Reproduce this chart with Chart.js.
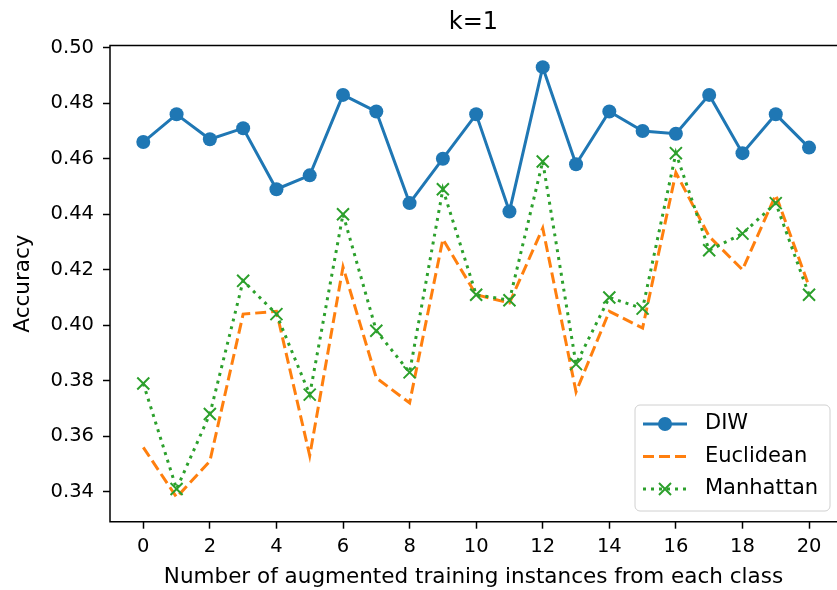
<!DOCTYPE html>
<html>
<head>
<meta charset="utf-8">
<script src="https://cdn.jsdelivr.net/npm/chart.js@4.4.0/dist/chart.umd.min.js"></script>
<style>
  html, body { margin: 0; padding: 0; background: #fff; overflow: hidden; }
  #wrap { width: 837px; height: 590px; }
</style>
</head>
<body>
<div id="wrap"><canvas id="grafico" width="837" height="590"></canvas></div>
<script>
// dados
const xValues = [0, 1, 2, 3, 4, 5, 6, 7, 8, 9, 10, 11, 12, 13, 14, 15, 16, 17, 18, 19, 20];
const diw = [0.466, 0.476, 0.467, 0.471, 0.449, 0.454, 0.483, 0.477, 0.444, 0.460, 0.476,
             0.441, 0.493, 0.458, 0.477, 0.470, 0.469, 0.483, 0.462, 0.476, 0.464];
const euclidean = [0.356, 0.338, 0.351, 0.404, 0.405, 0.353, 0.421, 0.381, 0.372, 0.431, 0.411,
                   0.408, 0.435, 0.376, 0.405, 0.399, 0.455, 0.432, 0.420, 0.447, 0.414];
const manhattan = [0.379, 0.341, 0.368, 0.416, 0.404, 0.375, 0.440, 0.398, 0.383, 0.449, 0.411,
                   0.409, 0.459, 0.386, 0.410, 0.406, 0.462, 0.427, 0.433, 0.444, 0.411];
const xTicks = [0, 2, 4, 6, 8, 10, 12, 14, 16, 18, 20];
const yTicks = [0.34, 0.36, 0.38, 0.40, 0.42, 0.44, 0.46, 0.48, 0.50];

const FONT = "'DejaVu Sans', sans-serif";

function pontos(serie) {
  return xValues.map(function (x, i) { return { x: x, y: serie[i] }; });
}

// moldura dos eixos (o lado direito fica fora da imagem) + legenda
const molduraLegenda = {
  id: "molduraLegenda",
  afterDatasetsDraw: function (chart) {
    const ctx = chart.ctx;
    const a = chart.chartArea;
    ctx.save();
    ctx.strokeStyle = "#000";
    ctx.lineWidth = 1.5;
    ctx.beginPath();
    ctx.moveTo(a.right + 2, a.top);
    ctx.lineTo(a.left, a.top);
    ctx.lineTo(a.left, a.bottom);
    ctx.lineTo(a.right + 2, a.bottom);
    ctx.stroke();

    // caixa da legenda
    const bx = 635, by = 405, bw = 195, bh = 106, r = 5;
    ctx.beginPath();
    ctx.moveTo(bx + r, by);
    ctx.arcTo(bx + bw, by, bx + bw, by + bh, r);
    ctx.arcTo(bx + bw, by + bh, bx, by + bh, r);
    ctx.arcTo(bx, by + bh, bx, by, r);
    ctx.arcTo(bx, by, bx + bw, by, r);
    ctx.closePath();
    ctx.fillStyle = "rgba(255,255,255,0.8)";
    ctx.fill();
    ctx.strokeStyle = "#d0d0d0";
    ctx.lineWidth = 1;
    ctx.stroke();

    const rows = [424, 456.5, 489];
    chart.data.datasets.forEach(function (ds, i) {
      const y = rows[i];
      ctx.strokeStyle = ds.borderColor;
      ctx.lineWidth = ds.borderWidth;
      ctx.setLineDash(ds.borderDash || []);
      ctx.lineCap = "butt";
      ctx.beginPath();
      ctx.moveTo(643, y);
      ctx.lineTo(687, y);
      ctx.stroke();
      ctx.setLineDash([]);
      if (ds.pointStyle === "circle" && ds.pointRadius > 0) {
        ctx.fillStyle = ds.pointBackgroundColor;
        ctx.beginPath();
        ctx.arc(665, y, ds.pointRadius, 0, Math.PI * 2);
        ctx.fill();
      } else if (ds.pointStyle === "crossRot" && ds.pointRadius > 0) {
        const d = ds.pointRadius * Math.SQRT1_2;
        ctx.strokeStyle = ds.pointBorderColor;
        ctx.lineWidth = ds.pointBorderWidth;
        ctx.beginPath();
        ctx.moveTo(665 - d, y - d); ctx.lineTo(665 + d, y + d);
        ctx.moveTo(665 - d, y + d); ctx.lineTo(665 + d, y - d);
        ctx.stroke();
      }
      ctx.fillStyle = "#000";
      ctx.font = "21px " + FONT;
      ctx.textAlign = "left";
      ctx.textBaseline = "middle";
      ctx.fillText(ds.label, 705, y);
    });
    ctx.restore();
  }
};

new Chart(document.getElementById("grafico"), {
  type: "line",
  data: {
    datasets: [
      {
        label: "DIW",
        data: pontos(diw),
        borderColor: "#1f77b4",
        backgroundColor: "#1f77b4",
        borderWidth: 3,
        pointStyle: "circle",
        pointRadius: 7,
        pointBackgroundColor: "#1f77b4",
        pointBorderWidth: 0,
        tension: 0,
        order: 3,
      },
      {
        label: "Euclidean",
        data: pontos(euclidean),
        borderColor: "#ff7f0e",
        backgroundColor: "#ff7f0e",
        borderWidth: 3,
        borderDash: [11, 5],
        pointRadius: 0,
        tension: 0,
        order: 2,
      },
      {
        label: "Manhattan",
        data: pontos(manhattan),
        borderColor: "#2ca02c",
        backgroundColor: "#2ca02c",
        borderWidth: 3,
        borderDash: [3, 5],
        pointStyle: "crossRot",
        pointRadius: 8.5,
        pointBorderColor: "#2ca02c",
        pointBorderWidth: 2,
        tension: 0,
        order: 1,
      },
    ],
  },
  options: {
    responsive: false,
    animation: false,
    layout: { autoPadding: false, padding: { left: 0, right: 0, top: 0, bottom: 0 } },
    plugins: {
      legend: { display: false },
      tooltip: { enabled: false },
      title: {
        display: true,
        text: "k=1",
        fullSize: false,
        color: "#000",
        font: { family: FONT, size: 24, weight: "normal", lineHeight: 1.2 },
        padding: { top: 8, bottom: 8.7 },
      },
    },
    scales: {
      x: {
        type: "linear",
        min: -1,
        max: 20.84,
        afterBuildTicks: function (scale) {
          scale.ticks = xTicks.map(function (v) { return { value: v }; });
        },
        afterFit: function (scale) {
          scale.height = 68.3;
          scale.paddingLeft = 0;
          scale.paddingRight = 0;
        },
        grid: { display: true, drawOnChartArea: false, drawTicks: true, tickLength: 7, tickColor: "#000", tickWidth: 1.5 },
        border: { display: false },
        ticks: {
          color: "#000",
          padding: 7,
          maxRotation: 0,
          font: { family: FONT, size: 19.5 },
          callback: function (v) { return String(v); },
        },
        title: {
          display: true,
          text: "Number of augmented training instances from each class",
          color: "#000",
          font: { family: FONT, size: 21.5, lineHeight: 1.2 },
          padding: { top: 0, bottom: 0 },
        },
      },
      y: {
        type: "linear",
        min: 0.3292,
        max: 0.5008,
        afterBuildTicks: function (scale) {
          scale.ticks = yTicks.map(function (v) { return { value: v }; });
        },
        afterFit: function (scale) {
          scale.width = 110;
          scale.paddingTop = 0;
          scale.paddingBottom = 0;
        },
        grid: { display: true, drawOnChartArea: false, drawTicks: true, tickLength: 7, tickColor: "#000", tickWidth: 1.5 },
        border: { display: false },
        ticks: {
          color: "#000",
          padding: 9,
          font: { family: FONT, size: 19.5 },
          callback: function (v) { return v.toFixed(2); },
        },
        title: {
          display: true,
          text: "Accuracy",
          color: "#000",
          font: { family: FONT, size: 21.5, lineHeight: 1.2 },
          padding: { top: 11, bottom: 0 },
        },
      },
    },
  },
  plugins: [molduraLegenda],
});
</script>
</body>
</html>
